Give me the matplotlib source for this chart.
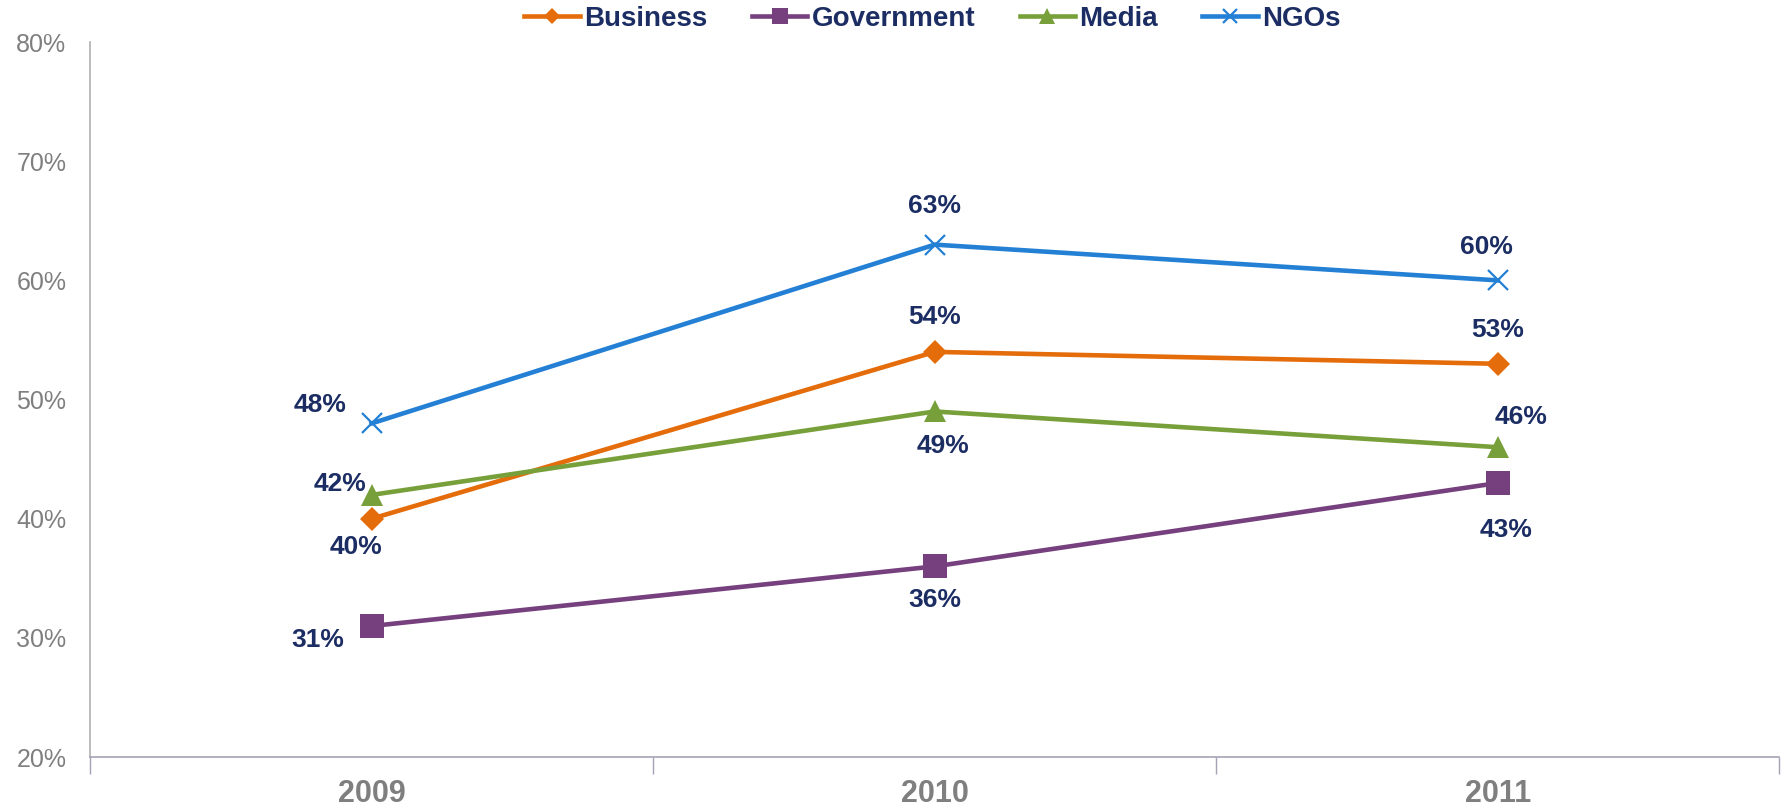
import matplotlib.pyplot as plt
from matplotlib.ticker import FixedLocator, PercentFormatter

plt.rcParams["font.family"] = ["Liberation Sans", "DejaVu Sans"]

years = ["2009", "2010", "2011"]
business = [40, 54, 53]
government = [31, 36, 43]
media = [42, 49, 46]
ngos = [48, 63, 60]

# label offsets in points, per series and year
off_business = [(-11, -20), (0, 25), (0, 24)]
off_government = [(-39, -10), (0, -24), (6, -34)]
off_media = [(-23, 8), (6, -25), (17, 22)]
off_ngos = [(-37, 13), (0, 28), (-8, 24)]

navy = "#1B2D63"
axis_col = "#A3A3B5"

series = [
    ("Business", business, "#E46C0A", "D", 12, off_business),
    ("Government", government, "#763F7D", "s", 17, off_government),
    ("Media", media, "#77A03A", "^", 16, off_media),
    ("NGOs", ngos, "#2380D5", "x", 15, off_ngos),
]

fig = plt.figure(figsize=(17.83, 8.08), dpi=100)
ax = fig.add_axes([0.0505, 0.063, 0.9475, 0.885])

x = list(range(len(years)))
handles = []
for name, vals, col, mk, ms, offs in series:
    (h,) = ax.plot(x, vals, color=col, lw=3.3, marker=mk, markersize=ms,
                   markeredgewidth=1.6 if mk == "x" else 0, label=name,
                   markeredgecolor=col, clip_on=False, zorder=3)
    handles.append(h)
    for xi, v, (dx, dy) in zip(x, vals, offs):
        ax.annotate(f"{v}%", xy=(xi, v), xytext=(dx, dy), textcoords="offset points",
                    ha="center", va="center", fontsize=19, fontweight="bold", color=navy)

ax.set_xlim(-0.5, 2.5)
ax.set_ylim(20, 80)
ax.yaxis.set_major_locator(FixedLocator(range(20, 81, 10)))
ax.yaxis.set_major_formatter(PercentFormatter(decimals=0))
ax.tick_params(axis="y", length=0, pad=17, labelsize=18, labelcolor="#7F7F7F")

ax.set_xticks(x)
ax.set_xticklabels(years)
ax.set_xticks([-0.5, 0.5, 1.5, 2.5], minor=True)
ax.tick_params(axis="x", which="major", length=0, pad=16, labelsize=22, labelcolor="#7F7F7F")
ax.tick_params(axis="x", which="minor", length=12, width=1, color=axis_col, direction="out")
for lab in ax.get_xticklabels():
    lab.set_fontweight("bold")

for s in ["top", "right"]:
    ax.spines[s].set_visible(False)
ax.spines["left"].set_color("#B0B0B0")
ax.spines["bottom"].set_color(axis_col)
ax.spines["left"].set_linewidth(1.2)
ax.spines["bottom"].set_linewidth(1.2)

leg = fig.legend(handles=handles, loc="center", bbox_to_anchor=(0.523, 0.977), ncol=4,
                 frameon=False, handlelength=2.0, columnspacing=1.6, handletextpad=0.15,
                 markerscale=0.7,
                 prop={"weight": "bold", "size": 20})
for t in leg.get_texts():
    t.set_color(navy)

fig.savefig("out.png", dpi=100)
